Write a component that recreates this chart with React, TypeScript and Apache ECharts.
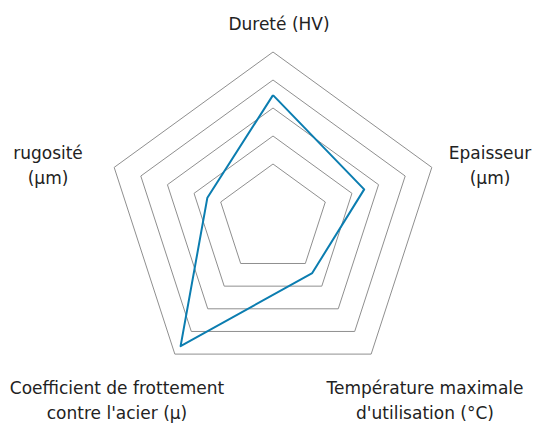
import React, { useEffect, useRef } from "react";
import * as echarts from "echarts";

// Indicators in ECharts order (counter-clockwise from the top)
const indicators = [
  "Dureté (HV)",
  "rugosité (µm)",
  "Coefficient de frottement contre l'acier (µ)",
  "Température maximale d'utilisation (°C)",
  "Epaisseur (µm)",
];
const values = [2.46, 0.5, 3.65, 0.42, 1.46];
const axisMax = 4;

const labelLines = [
  ["Dureté (HV)"],
  ["rugosité", "(µm)"],
  ["Coefficient de frottement", "contre l'acier (µ)"],
  ["Température maximale", "d'utilisation (°C)"],
  ["Epaisseur", "(µm)"],
];

export default function App() {
  const ref = useRef<HTMLDivElement>(null);
  useEffect(() => {
    if (!ref.current) return;
    const chart = echarts.init(ref.current, null, { renderer: "svg" });
    const font = "'DejaVu Sans', sans-serif";
    const labelPos = [
      [279, 24],
      [48, 165],
      [117, 400],
      [425, 400],
      [490, 165],
    ];
    const graphics = labelLines.map((lines, i) => ({
      type: "text",
      x: labelPos[i][0],
      y: labelPos[i][1],
      style: {
        text: lines.join("\n"),
        fill: "#222",
        font: `17px ${font}`,
        lineHeight: 25,
        align: "center",
        verticalAlign: "middle",
      },
    }));
    chart.setOption({
      animation: false,
      graphic: graphics,
      radar: {
        center: [273, 219],
        radius: [55, 167],
        startAngle: 90,
        splitNumber: 4,
        shape: "polygon",
        indicator: indicators.map((name) => ({ name, min: 0, max: axisMax })),
        axisName: { show: false },
        axisLine: { show: false },
        axisTick: { show: false },
        axisLabel: { show: false },
        splitArea: { show: false },
        splitLine: { lineStyle: { color: "#8f8f8f", width: 1 } },
      },
      series: [
        {
          type: "radar",
          symbol: "none",
          lineStyle: { color: "#0b7db0", width: 2 },
          data: [{ value: values, name: "Revêtement" }],
        },
      ],
    });
    return () => chart.dispose();
  }, []);
  return <div ref={ref} style={{ width: 536, height: 426, position: "absolute", left: 0, top: 0 }} />;
}
